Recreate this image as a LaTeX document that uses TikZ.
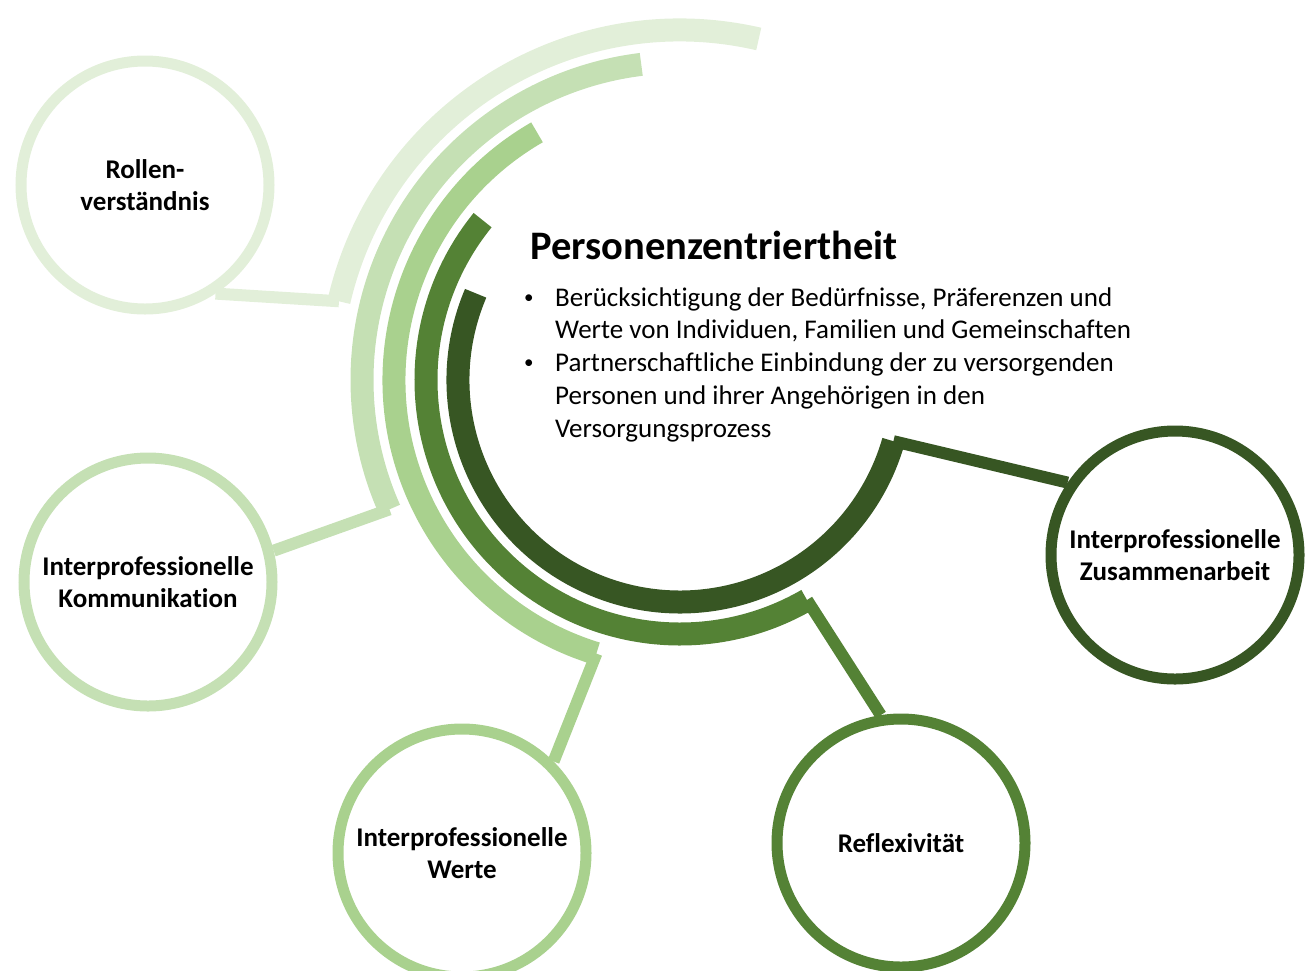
\documentclass[tikz,border=0pt]{standalone}
\usepackage{fontspec}
\setmainfont{Carlito}[Ligatures=NoCommon]
\definecolor{gA}{HTML}{E2EFD9}
\definecolor{gB}{HTML}{C5E0B4}
\definecolor{gC}{HTML}{A9D18E}
\definecolor{gD}{HTML}{548235}
\definecolor{gE}{HTML}{375623}
\begin{document}
\begin{tikzpicture}[x=1pt,y=1pt,
  ring/.style={circle, draw=#1, line width=11pt, minimum size=248pt, inner sep=0pt,
    align=center, fill=white, font=\bfseries\fontsize{27}{32}\selectfont},
  band/.style={draw=#1, line width=23pt},
  link/.style={draw=#1, line width=12pt},
  bodytext/.style={anchor=base west, inner sep=0pt, font=\fontsize{27}{33}\selectfont},
  bullettext/.style={anchor=base west, inner sep=0pt, font=\fontsize{19}{19}\selectfont},
  titletext/.style={anchor=base west, inner sep=0pt, font=\bfseries\fontsize{40.5}{48}\selectfont}
]
\useasboundingbox (0,0) rectangle (1316,-970);
\clip (0,0) rectangle (1316,-970);
\coordinate (C) at (680,-380);

% arcs
\draw[band=gA] ([shift={(77:350)}]C) arc[start angle=77, end angle=167, radius=350];
\draw[band=gB] ([shift={(97:318)}]C) arc[start angle=97, end angle=204, radius=318];
\draw[band=gC] ([shift={(120:286)}]C) arc[start angle=120, end angle=253, radius=286];
\draw[band=gD] ([shift={(141:254)}]C) arc[start angle=141, end angle=300, radius=254];
\draw[band=gE] ([shift={(157:222)}]C) arc[start angle=157, end angle=344, radius=222];

% arc end points
\coordinate (eA) at ([shift={(167:350)}]C);
\coordinate (eB) at ([shift={(204:318)}]C);
\coordinate (eC) at ([shift={(253:286)}]C);
\coordinate (eD) at ([shift={(300:254)}]C);
\coordinate (eE) at ([shift={(344:222)}]C);

% circles
\node[ring=gA] (rollen) at (145,-185) {Rollen-\\verständnis};
\node[ring=gB] (komm) at (148,-582) {Interprofessionelle\\Kommunikation};
\node[ring=gC] (werte) at (462,-853) {Interprofessionelle\\Werte};
\node[ring=gD] (reflex) at (901,-843) {Reflexivität};
\node[ring=gE] (zus) at (1175,-555) {Interprofessionelle\\Zusammenarbeit};

% connectors
\draw[link=gA] (eA) -- (rollen.303);
\draw[link=gB] (eB) -- (komm.14);
\draw[link=gC] (eC) -- (werte.45);
\draw[link=gD] (eD) -- (reflex.99);
\draw[link=gE] (eE) -- (zus.146);

% central text
\node[titletext] (title) at (530,-259) {Personenzentriertheit};
\node[bullettext] (bul1) at (524,-303.5) {•};
\node[bodytext] (l1) at (555,-306) {Berücksichtigung der Bedürfnisse, Präferenzen und};
\node[bodytext] (l2) at (555,-338) {Werte von Individuen, Familien und Gemeinschaften};
\node[bullettext] (bul2) at (524,-368.5) {•};
\node[bodytext] (l3) at (555,-371) {Partnerschaftliche Einbindung der zu versorgenden};
\node[bodytext] (l4) at (555,-404) {Personen und ihrer Angehörigen in den};
\node[bodytext] (l5) at (555,-437) {Versorgungsprozess};
\end{tikzpicture}
\end{document}
